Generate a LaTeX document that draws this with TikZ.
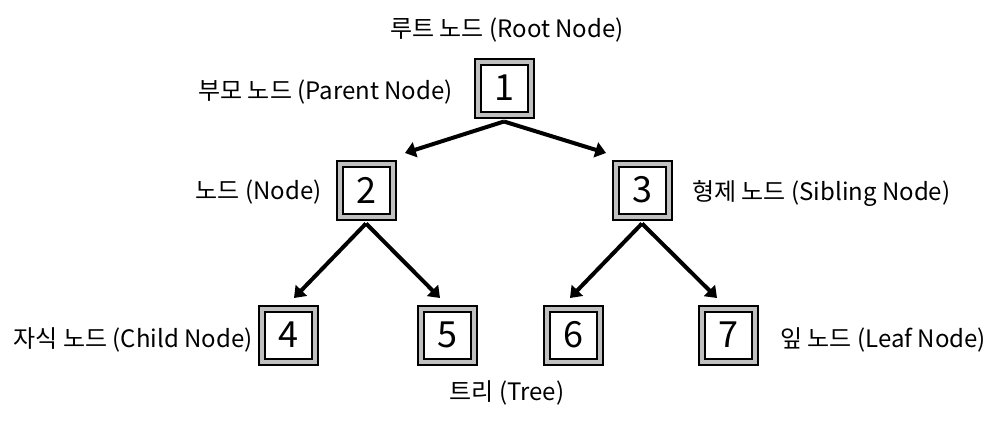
\documentclass[tikz,border=0pt]{standalone}
\usepackage{fontspec}
\setmainfont{Noto Sans CJK KR}
\usetikzlibrary{arrows.meta}

\definecolor{boxgray}{RGB}{192,192,192}

\begin{document}
\begin{tikzpicture}[x=0.75pt, y=-0.75pt,
    tnode/.style={draw, line width=1.5pt, double=boxgray, double distance=3pt,
      fill=white, minimum size=39.75pt, inner sep=0pt, outer sep=5.25pt,
      font=\fontsize{27pt}{30pt}\selectfont},
    lbl/.style={inner sep=0pt, font=\fontsize{18pt}{20pt}\selectfont},
    arr/.style={line width=3pt, -{Triangle[length=8pt, width=11.5pt]}}]
  \useasboundingbox (0,0) rectangle (1004,421);

  % boxes
  \node[tnode] (n1) at (504,88)  {1};
  \node[tnode] (n2) at (366,190) {2};
  \node[tnode] (n3) at (642,190) {3};
  \node[tnode] (n4) at (288,335) {4};
  \node[tnode] (n5) at (447,335) {5};
  \node[tnode] (n6) at (573,335) {6};
  \node[tnode] (n7) at (728,335) {7};

  % arrow tips
  \coordinate (t2) at (405,153);
  \coordinate (t3) at (606,153);
  \coordinate (t4) at (294,298);
  \coordinate (t5) at (440,298);
  \coordinate (t6) at (570,298);
  \coordinate (t7) at (717,298);

  \draw[arr] (n1.south) -- (t2);
  \draw[arr] (n1.south) -- (t3);
  \draw[arr] (n2.south) -- (t4);
  \draw[arr] (n2.south) -- (t5);
  \draw[arr] (n3.south) -- (t6);
  \draw[arr] (n3.south) -- (t7);

  % labels
  \node[lbl] (lroot) at (507,30) {루트 노드 (Root Node)};
  \node[lbl, anchor=east] (lparent) at (453,92) {부모 노드 (Parent Node)};
  \node[lbl, anchor=east] (lnode) at (322,192) {노드 (Node)};
  \node[lbl, anchor=west] (lsib) at (692,193) {형제 노드 (Sibling Node)};
  \node[lbl, anchor=east] (lchild) at (253,340) {자식 노드 (Child Node)};
  \node[lbl] (ltree) at (507,393) {트리 (Tree)};
  \node[lbl, anchor=west] (lleaf) at (780,340) {잎 노드 (Leaf Node)};
\end{tikzpicture}
\end{document}
